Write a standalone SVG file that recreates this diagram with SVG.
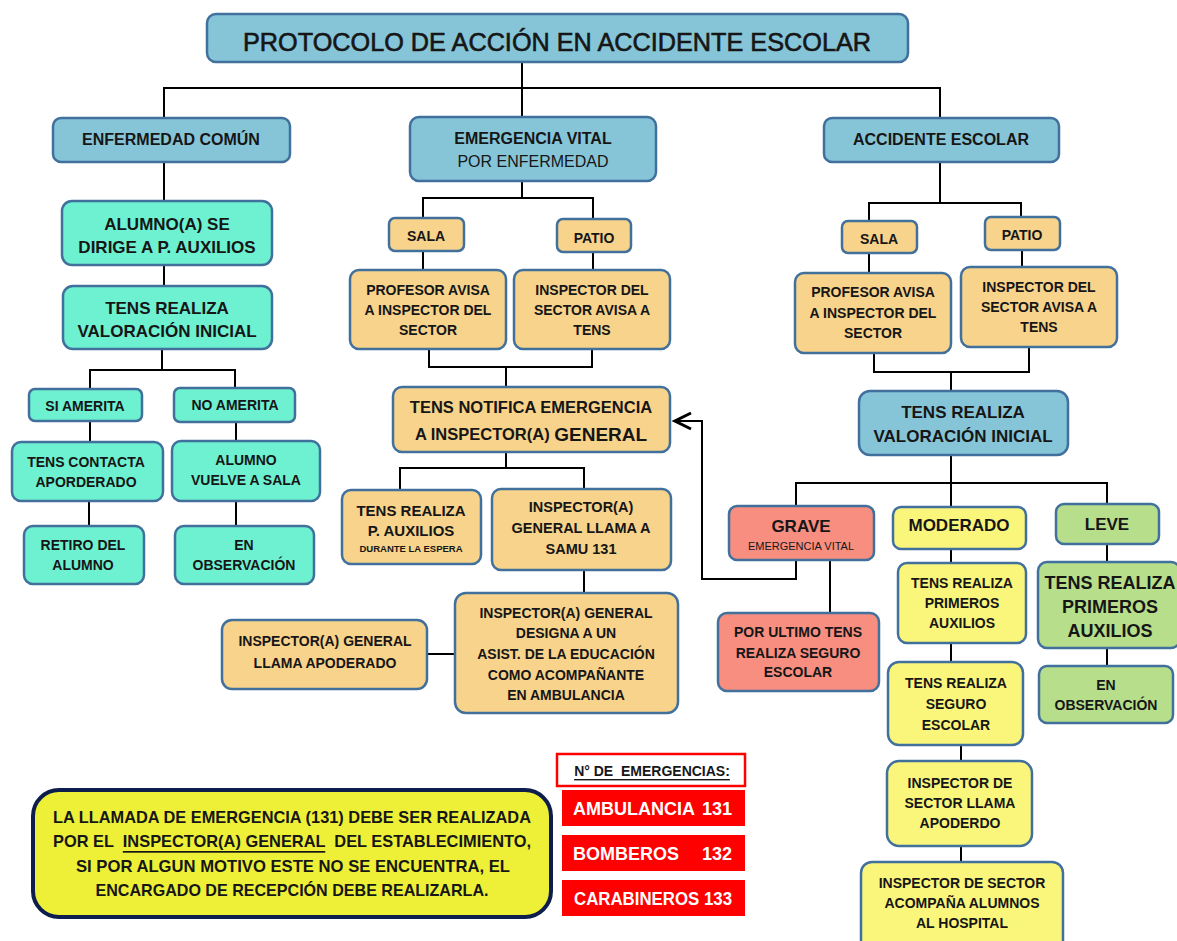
<svg xmlns="http://www.w3.org/2000/svg" width="1177" height="941" viewBox="0 0 1177 941">
<style>
.b{stroke:#41709D;stroke-width:2.5}
.blue{fill:#86C5D8}.org{fill:#F8D38B}.teal{fill:#6DF1D1}.sal{fill:#F78E80}.yel{fill:#FAF67B}.grn{fill:#B6DE8B}
text{font-family:"Liberation Sans",Arial,sans-serif;font-weight:bold;fill:#161616;text-anchor:middle;dominant-baseline:central;font-size:14px}
.reg{font-weight:normal}
.f16{font-size:16px}.f17{font-size:17px}.f18{font-size:18px}
.c line,.c path{stroke:#000;stroke-width:2;fill:none}
.w{fill:#fff}
.nt{font-size:17px}
</style>
<defs>
<marker id="chev" viewBox="0 0 20 20" refX="17" refY="10" markerWidth="20" markerHeight="20" markerUnits="userSpaceOnUse" orient="auto">
<path d="M1 2 L17 10 L1 18" fill="none" stroke="#000" stroke-width="3"/>
</marker>
</defs>
<rect width="1177" height="941" fill="#fff"/>

<g class="c" id="connectors">
<path d="M522 62 V117 M164 118 V88 H940 V118"/>
<path d="M164 162 V201 M164 265 V286 M162 349 V370 M90 389 V370 H235 V388 M90 421 V442 M236 422 V441 M89 501 V526 M236 501 V526"/>
<path d="M522 181 V198 M423 218 V198 H593 V219 M423 251 V270 M593 252 V270 M429 349 V367 H592 V349 M506 367 V387"/>
<path d="M506 452 V468 M400 490 V468 H584 V489 M584 570 V593 M427 654 H455"/>
<path d="M940 162 V203 M869 221 V203 H1021 V217 M869 253 V273 M1022 250 V267 M874 353 V372 H1029 V347 M951 372 V391"/>
<path d="M951 455 V483 M796 506 V483 H1107 V504 M951 483 V507 M830 560 V613 M951 549 V563 M951 643 V662 M1107 544 V562 M1107 648 V666 M961 745 V761 M961 846 V862"/>
<path d="M796 560 V579 H702 V421 H675" stroke-width="3" marker-end="url(#chev)"/>
</g>

<g id="title"><rect x="207" y="14" width="701" height="48" rx="9" class="b blue"/><text x="557" y="42" class="reg" style="font-size:25px;stroke:#161616;stroke-width:0.6" textLength="628" lengthAdjust="spacingAndGlyphs">PROTOCOLO DE ACCIÓN EN ACCIDENTE ESCOLAR</text></g>
<g id="enfermedad"><rect x="53" y="118" width="237" height="44" rx="8" class="b blue"/><text x="171" y="139" class="f16">ENFERMEDAD COMÚN</text></g>
<g id="emergencia"><rect x="410" y="117" width="246" height="64" rx="9" class="b blue"/><text x="533" y="138" class="f16">EMERGENCIA VITAL</text><text x="533" y="161" class="f16 reg">POR ENFERMEDAD</text></g>
<g id="accidente"><rect x="824" y="118" width="235" height="44" rx="8" class="b blue"/><text x="941" y="139" class="f16">ACCIDENTE ESCOLAR</text></g>

<g id="alumno-dirige"><rect x="62" y="201" width="210" height="64" rx="10" class="b teal"/><text x="167" y="224" class="f17">ALUMNO(A) SE</text><text x="167" y="247" class="f17">DIRIGE A P. AUXILIOS</text></g>
<g id="tens-val-1"><rect x="63" y="286" width="209" height="63" rx="10" class="b teal"/><text x="167" y="308" class="f17">TENS REALIZA</text><text x="167" y="331" class="f17">VALORACIÓN INICIAL</text></g>
<g id="si-amerita"><rect x="29" y="389" width="113" height="32" rx="6" class="b teal"/><text x="85" y="406">SI AMERITA</text></g>
<g id="no-amerita"><rect x="174" y="388" width="121" height="34" rx="6" class="b teal"/><text x="235" y="405">NO AMERITA</text></g>
<g id="tens-contacta"><rect x="12" y="442" width="151" height="59" rx="9" class="b teal"/><text x="86" y="462">TENS CONTACTA</text><text x="86" y="482">APORDERADO</text></g>
<g id="retiro"><rect x="24" y="526" width="120" height="58" rx="9" class="b teal"/><text x="83" y="545">RETIRO DEL</text><text x="83" y="565">ALUMNO</text></g>
<g id="vuelve-sala"><rect x="172" y="441" width="148" height="60" rx="9" class="b teal"/><text x="246" y="460">ALUMNO</text><text x="246" y="480">VUELVE A SALA</text></g>
<g id="observacion-1"><rect x="175" y="526" width="139" height="58" rx="9" class="b teal"/><text x="244" y="545">EN</text><text x="244" y="565">OBSERVACIÓN</text></g>

<g id="sala-1"><rect x="389" y="218" width="75" height="33" rx="6" class="b org"/><text x="426" y="236">SALA</text></g>
<g id="patio-1"><rect x="557" y="219" width="74" height="33" rx="6" class="b org"/><text x="594" y="238">PATIO</text></g>
<g id="profesor-1"><rect x="350" y="270" width="156" height="79" rx="9" class="b org"/><text x="428" y="290">PROFESOR AVISA</text><text x="428" y="310">A INSPECTOR DEL</text><text x="428" y="330">SECTOR</text></g>
<g id="inspector-1"><rect x="514" y="270" width="156" height="79" rx="9" class="b org"/><text x="592" y="290">INSPECTOR DEL</text><text x="592" y="310">SECTOR AVISA A</text><text x="592" y="330">TENS</text></g>
<g id="tens-notifica"><rect x="393" y="387" width="277" height="65" rx="9" class="b org"/><text x="531" y="407" style="font-size:16.5px">TENS NOTIFICA EMERGENCIA</text><text x="531" y="434" style="font-size:16.5px">A INSPECTOR(A) <tspan style="font-size:19px">GENERAL</tspan></text></g>
<g id="tens-auxilios"><rect x="342" y="490" width="139" height="74" rx="9" class="b org"/><text x="411" y="510" style="font-size:15px">TENS REALIZA</text><text x="411" y="530" style="font-size:15px">P. AUXILIOS</text><text x="411" y="548" style="font-size:9.5px">DURANTE LA ESPERA</text></g>
<g id="samu"><rect x="492" y="489" width="179" height="81" rx="9" class="b org"/><text x="581" y="507" style="font-size:14.5px">INSPECTOR(A)</text><text x="581" y="528" style="font-size:14.5px">GENERAL LLAMA A</text><text x="581" y="549" style="font-size:14.5px">SAMU 131</text></g>
<g id="designa"><rect x="455" y="593" width="223" height="120" rx="11" class="b org"/><text x="566" y="613">INSPECTOR(A) GENERAL</text><text x="566" y="633">DESIGNA A UN</text><text x="566" y="654">ASIST. DE LA EDUCACIÓN</text><text x="566" y="675">COMO ACOMPAÑANTE</text><text x="566" y="695">EN AMBULANCIA</text></g>
<g id="llama-apoderado"><rect x="222" y="620" width="205" height="69" rx="10" class="b org"/><text x="325" y="641">INSPECTOR(A) GENERAL</text><text x="325" y="663">LLAMA APODERADO</text></g>

<g id="sala-2"><rect x="842" y="221" width="75" height="32" rx="6" class="b org"/><text x="879" y="239">SALA</text></g>
<g id="patio-2"><rect x="985" y="217" width="75" height="33" rx="6" class="b org"/><text x="1022" y="235">PATIO</text></g>
<g id="profesor-2"><rect x="795" y="273" width="156" height="80" rx="9" class="b org"/><text x="873" y="292">PROFESOR AVISA</text><text x="873" y="313">A INSPECTOR DEL</text><text x="873" y="333">SECTOR</text></g>
<g id="inspector-2"><rect x="961" y="267" width="156" height="80" rx="9" class="b org"/><text x="1039" y="287">INSPECTOR DEL</text><text x="1039" y="307">SECTOR AVISA A</text><text x="1039" y="327">TENS</text></g>
<g id="tens-val-2"><rect x="859" y="391" width="209" height="64" rx="11" class="b blue"/><text x="963" y="412" class="f17">TENS REALIZA</text><text x="963" y="436" class="f17">VALORACIÓN INICIAL</text></g>
<g id="grave"><rect x="729" y="506" width="145" height="54" rx="8" class="b sal"/><text x="801" y="526" class="f17">GRAVE</text><text x="801" y="546" class="reg" style="font-size:11px">EMERGENCIA VITAL</text></g>
<g id="moderado"><rect x="893" y="507" width="133" height="42" rx="8" class="b yel"/><text x="959" y="525" class="f17">MODERADO</text></g>
<g id="leve"><rect x="1056" y="504" width="103" height="40" rx="8" class="b grn"/><text x="1107" y="524" class="f17">LEVE</text></g>
<g id="seguro-grave"><rect x="718" y="613" width="161" height="78" rx="9" class="b sal"/><text x="798" y="632">POR ULTIMO TENS</text><text x="798" y="653">REALIZA SEGURO</text><text x="798" y="672">ESCOLAR</text></g>
<g id="auxilios-moderado"><rect x="898" y="563" width="128" height="80" rx="9" class="b yel"/><text x="962" y="583">TENS REALIZA</text><text x="962" y="603">PRIMEROS</text><text x="962" y="623">AUXILIOS</text></g>
<g id="seguro-moderado"><rect x="888" y="662" width="135" height="83" rx="11" class="b yel"/><text x="956" y="683">TENS REALIZA</text><text x="956" y="704">SEGURO</text><text x="956" y="725">ESCOLAR</text></g>
<g id="auxilios-leve"><rect x="1038" y="562" width="142" height="86" rx="9" class="b grn"/><text x="1110" y="583" class="f18">TENS REALIZA</text><text x="1110" y="607" class="f18">PRIMEROS</text><text x="1110" y="631" class="f18">AUXILIOS</text></g>
<g id="observacion-2"><rect x="1039" y="666" width="134" height="57" rx="8" class="b grn"/><text x="1106" y="685">EN</text><text x="1106" y="705">OBSERVACIÓN</text></g>
<g id="llama-apoderdo"><rect x="887" y="761" width="145" height="85" rx="12" class="b yel"/><text x="960" y="783">INSPECTOR DE</text><text x="960" y="803">SECTOR  LLAMA</text><text x="960" y="823">APODERDO</text></g>
<g id="hospital"><rect x="861" y="862" width="202" height="90" rx="11" class="b yel"/><text x="962" y="883">INSPECTOR DE SECTOR</text><text x="962" y="903">ACOMPAÑA ALUMNOS</text><text x="962" y="923">AL HOSPITAL</text></g>

<g id="nota"><rect x="33" y="790" width="518" height="127" rx="26" fill="#EDF037" stroke="#0E1E4C" stroke-width="4"/>
<text x="292" y="817" class="nt" textLength="478" lengthAdjust="spacingAndGlyphs">LA LLAMADA DE EMERGENCIA (131) DEBE SER REALIZADA</text>
<text x="292" y="841" class="nt" textLength="478" lengthAdjust="spacingAndGlyphs" xml:space="preserve">POR EL  <tspan text-decoration="underline">INSPECTOR(A) GENERAL</tspan>  DEL ESTABLECIMIENTO,</text>
<text x="293" y="866" class="nt" textLength="434" lengthAdjust="spacingAndGlyphs">SI POR ALGUN MOTIVO ESTE NO SE ENCUENTRA, EL</text>
<text x="292" y="890" class="nt" textLength="393" lengthAdjust="spacingAndGlyphs">ENCARGADO DE RECEPCIÓN DEBE REALIZARLA.</text></g>

<g id="numeros"><rect x="557" y="754" width="188" height="32" fill="#fff" stroke="#FF0000" stroke-width="2.5"/><text x="652" y="771" text-decoration="underline" xml:space="preserve">N° DE  EMERGENCIAS:</text></g>
<g id="ambulancia"><rect x="562" y="790" width="183" height="36" fill="#FF0000"/><text x="573" y="809" class="w f18" style="text-anchor:start">AMBULANCIA</text><text x="732" y="809" class="w f18" style="text-anchor:end">131</text></g>
<g id="bomberos"><rect x="562" y="835" width="183" height="36" fill="#FF0000"/><text x="573" y="854" class="w f18" style="text-anchor:start">BOMBEROS</text><text x="732" y="854" class="w f18" style="text-anchor:end">132</text></g>
<g id="carabineros"><rect x="562" y="880" width="183" height="36" fill="#FF0000"/><text x="653" y="899" class="w f18" textLength="158" lengthAdjust="spacingAndGlyphs">CARABINEROS 133</text></g>
</svg>
